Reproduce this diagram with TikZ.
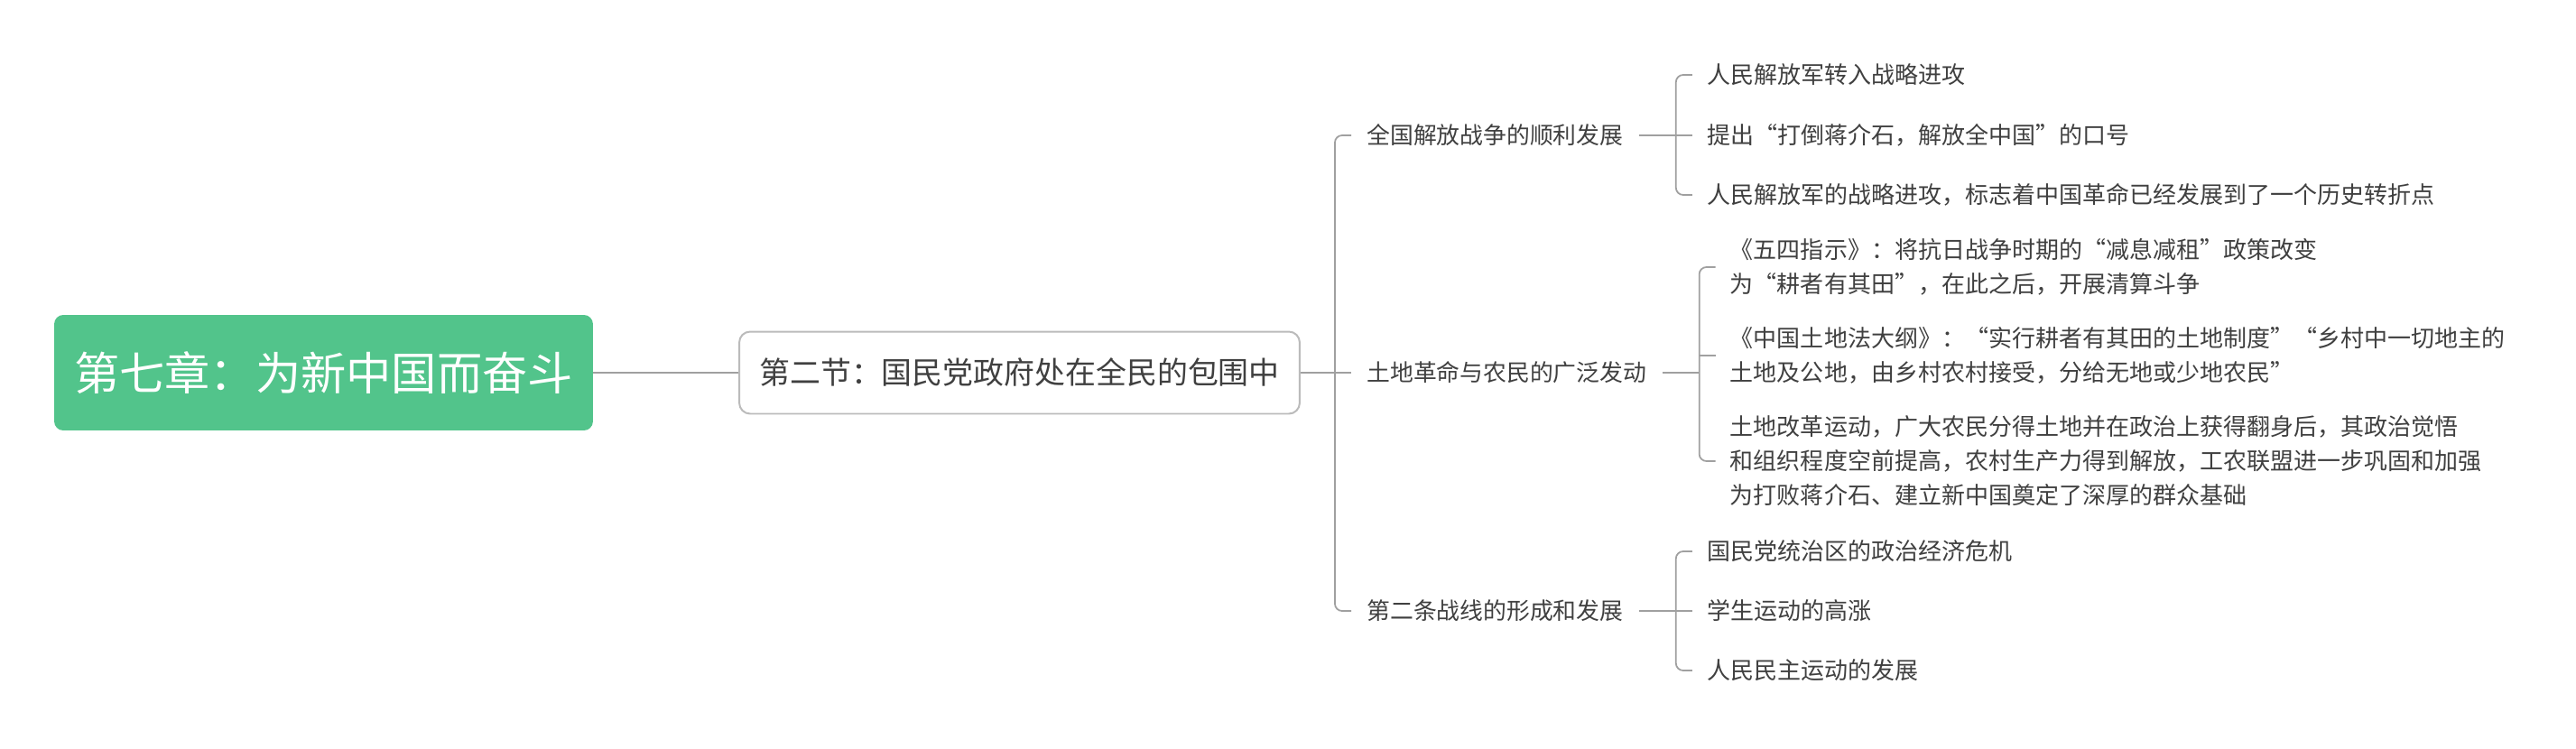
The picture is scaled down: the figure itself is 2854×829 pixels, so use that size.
\documentclass[tikz,border=0pt]{standalone}
\usepackage{fontspec}
\setmainfont{Noto Sans CJK SC}
\usetikzlibrary{calc}
\definecolor{mmgreen}{HTML}{52C48B}
\definecolor{mmtext}{HTML}{404040}
\definecolor{mmline}{HTML}{A0A0A0}
\definecolor{mmbord}{HTML}{BBBBBB}
\tikzset{
    rootbox/.style={fill=mmgreen, rounded corners=0.2cm, text=white, font=\fontsize{28.6pt}{34pt}\selectfont, minimum width=11.94cm, minimum height=2.56cm},
    secbox/.style={draw=mmbord, line width=0.04cm, fill=white, rounded corners=0.24cm, text=mmtext, font=\fontsize{19.3pt}{24pt}\selectfont, minimum width=12.42cm, minimum height=1.82cm},
    brnch/.style={anchor=west, inner xsep=0.34cm, inner ysep=0.1cm, text=mmtext, font=\fontsize{14.7pt}{20pt}\selectfont},
    leaf/.style={anchor=west, inner xsep=0.32cm, inner ysep=0.1cm, align=left, text=mmtext, font=\fontsize{14.8pt}{21.6pt}\selectfont},
    lnk/.style={draw=mmline, line width=0.035cm, rounded corners=0.16cm}
}

\begin{document}
\begin{tikzpicture}[x=0.02cm, y=-0.02cm]
    \useasboundingbox[fill=white] (0,0) rectangle (2854,829);
    \node[rootbox] (root) at (358.5,413) {第七章：为新中国而奋斗};
    \node[secbox] (sec) at (1129.5,413) {第二节：国民党政府处在全民的包围中};
    \node[brnch] (war) at (1497,150) {全国解放战争的顺利发展};
    \node[brnch] (land) at (1497,413) {土地革命与农民的广泛发动};
    \node[brnch] (front) at (1497,677) {第二条战线的形成和发展};
    \node[leaf] (war1) at ($(war.east)+(59,-67)$) {人民解放军转入战略进攻};
    \node[leaf] (war2) at ($(war.east)+(59,0)$) {提出“打倒蒋介石，解放全中国”的口号};
    \node[leaf] (war3) at ($(war.east)+(59,66)$) {人民解放军的战略进攻，标志着中国革命已经发展到了一个历史转折点};
    \node[leaf] (land1) at ($(land.east)+(59,-117)$) {《五四指示》：将抗日战争时期的“减息减租”政策改变\\为“耕者有其田”，在此之后，开展清算斗争};
    \node[leaf] (land2) at ($(land.east)+(59,-19)$) {《中国土地法大纲》：“实行耕者有其田的土地制度”“乡村中一切地主的\\土地及公地，由乡村农村接受，分给无地或少地农民”};
    \node[leaf] (land3) at ($(land.east)+(59,98)$) {土地改革运动，广大农民分得土地并在政治上获得翻身后，其政治觉悟\\和组织程度空前提高，农村生产力得到解放，工农联盟进一步巩固和加强\\为打败蒋介石、建立新中国奠定了深厚的群众基础};
    \node[leaf] (front1) at ($(front.east)+(59,-66)$) {国民党统治区的政治经济危机};
    \node[leaf] (front2) at ($(front.east)+(59,0)$) {学生运动的高涨};
    \node[leaf] (front3) at ($(front.east)+(59,66)$) {人民民主运动的发展};

    \draw[lnk] (root.east) -- (sec.west);
    \coordinate (spine) at ($(sec.east)+(38,0)$);
    \draw[lnk] (sec.east) -- (land.west);
    \draw[lnk] (war.west) -| (spine) |- (front.west);

    \coordinate (warbr) at ($(war.east)+(41,0)$);
    \draw[lnk] (war.east) -- (war2.west);
    \draw[lnk] (war1.west) -| (warbr) |- (war3.west);

    \coordinate (landbr) at ($(land.east)+(41,0)$);
    \draw[lnk] (land.east) -- (landbr);
    \draw[lnk] (land1.west) -| (landbr) |- (land3.west);
    \draw[lnk] (landbr |- land2.west) -- (land2.west);

    \coordinate (frontbr) at ($(front.east)+(41,0)$);
    \draw[lnk] (front.east) -- (front2.west);
    \draw[lnk] (front1.west) -| (frontbr) |- (front3.west);
\end{tikzpicture}
\end{document}
